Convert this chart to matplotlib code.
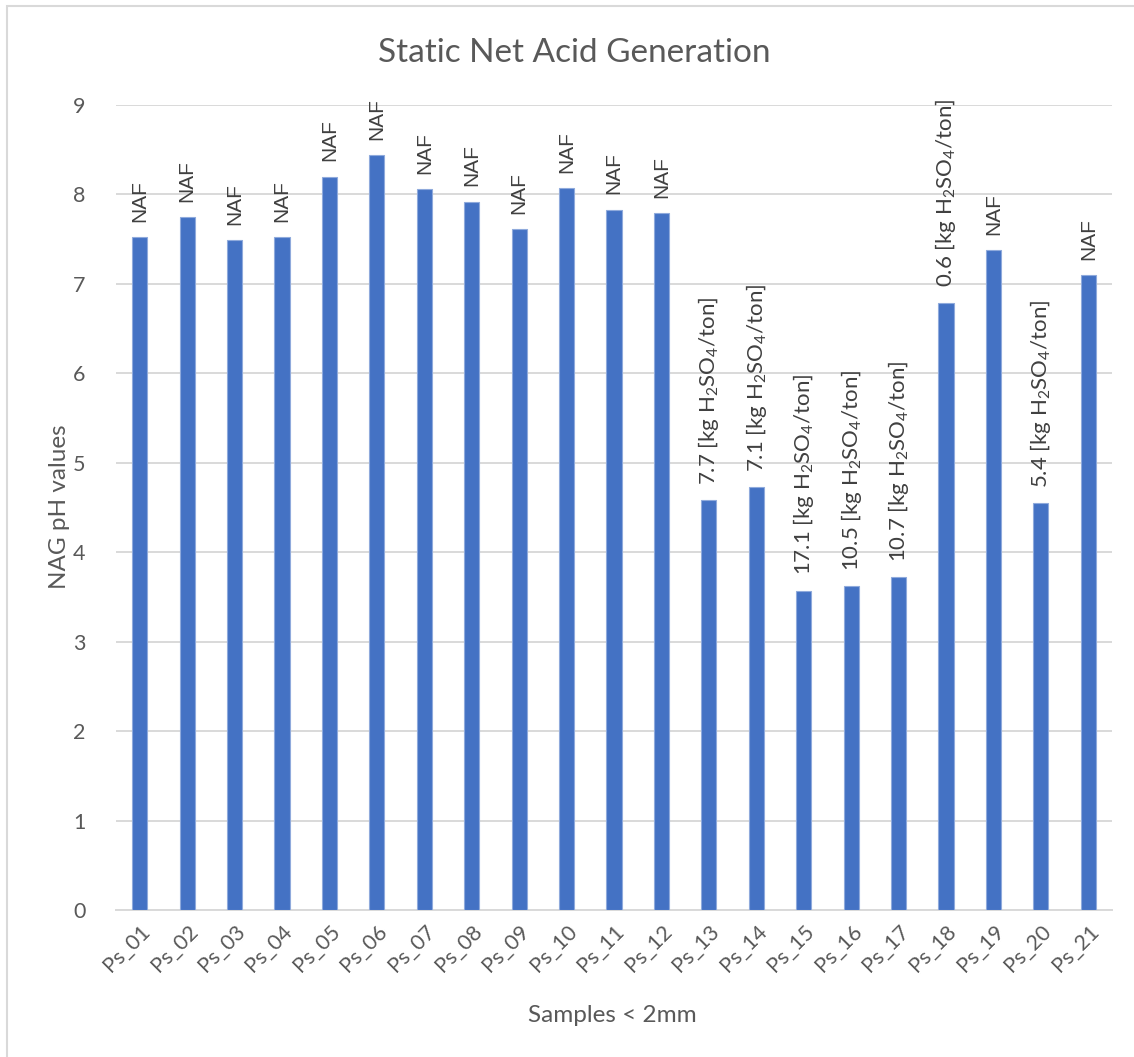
import matplotlib
matplotlib.use("Agg")
import matplotlib.pyplot as plt
from matplotlib.patches import Rectangle

plt.rcParams['font.family'] = ['Lato', 'DejaVu Sans']
plt.rcParams['mathtext.fontset'] = 'custom'
plt.rcParams['mathtext.rm'] = 'Lato'
plt.rcParams['mathtext.it'] = 'Lato'

samples = ['Ps_%02d' % i for i in range(1, 22)]
nag_ph = [7.52, 7.75, 7.49, 7.52, 8.20, 8.44, 8.06, 7.92, 7.61, 8.07, 7.83,
          7.79, 4.58, 4.73, 3.57, 3.62, 3.72, 6.79, 7.38, 4.55, 7.10]
# net acid generation, kg H2SO4 per ton (None = NAF)
nag_kg = [None] * 12 + [7.7, 7.1, 17.1, 10.5, 10.7, 0.6, None, 5.4, None]

grey = '#595959'
W, H = 1134, 1057
fig = plt.figure(figsize=(W / 100, H / 100), dpi=100)
ax = fig.add_axes([116 / W, 1 - 910 / H, 996 / W, 805 / H])

x = range(len(samples))
ax.bar(x, nag_ph, width=0.32, color='#4472C4', edgecolor='#8FAADC',
       linewidth=0.8, zorder=3)

for i, v in enumerate(nag_ph):
    if nag_kg[i] is None:
        ax.annotate('NAF', (i, v), xytext=(0, 11), textcoords='offset points',
                    rotation=90, ha='center', va='bottom', fontsize=15,
                    color='#404040', family='Liberation Sans')
    else:
        txt = '%.1f [kg H$_2$SO$_4$/ton]' % nag_kg[i]
        ax.annotate(txt, (i, v), xytext=(0, 11), textcoords='offset points',
                    rotation=90, ha='center', va='bottom', fontsize=16,
                    color='#404040')

ax.set_xlim(-0.5, len(samples) - 0.5)
ax.set_ylim(0, 9)
ax.set_yticks(range(10))
ax.yaxis.grid(True, color='#D9D9D9', linewidth=1.4, zorder=0)
ax.set_axisbelow(True)
for s in ['top', 'right', 'left']:
    ax.spines[s].set_visible(False)
ax.spines['bottom'].set_color('#D9D9D9')
ax.spines['bottom'].set_linewidth(1.4)
ax.tick_params(axis='both', length=0, labelsize=15.5, labelcolor=grey)
ax.tick_params(axis='y', pad=22)
ax.set_xticks(list(x))
ax.set_xticklabels(samples, rotation=45, ha='right', rotation_mode='anchor')
ax.tick_params(axis='x', pad=8)

fig.text(574 / W, 1 - 62 / H, 'Static Net Acid Generation', fontsize=24,
         color=grey, ha='center', va='baseline')
fig.text(60 / W, 1 - 507 / H, 'NAG pH values', fontsize=17.5, color=grey,
         rotation=90, ha='center', va='center')
fig.text(612 / W, 1 - 1022 / H, 'Samples < 2mm', fontsize=17.5, color=grey,
         ha='center', va='baseline')

# chart border
fig.patches.append(Rectangle((7 / W, -0.01), 1.2, 1 - 6 / H + 0.01,
                             transform=fig.transFigure, fill=False,
                             edgecolor='#D9D9D9', linewidth=1.5))

fig.savefig('out.png', dpi=100)
